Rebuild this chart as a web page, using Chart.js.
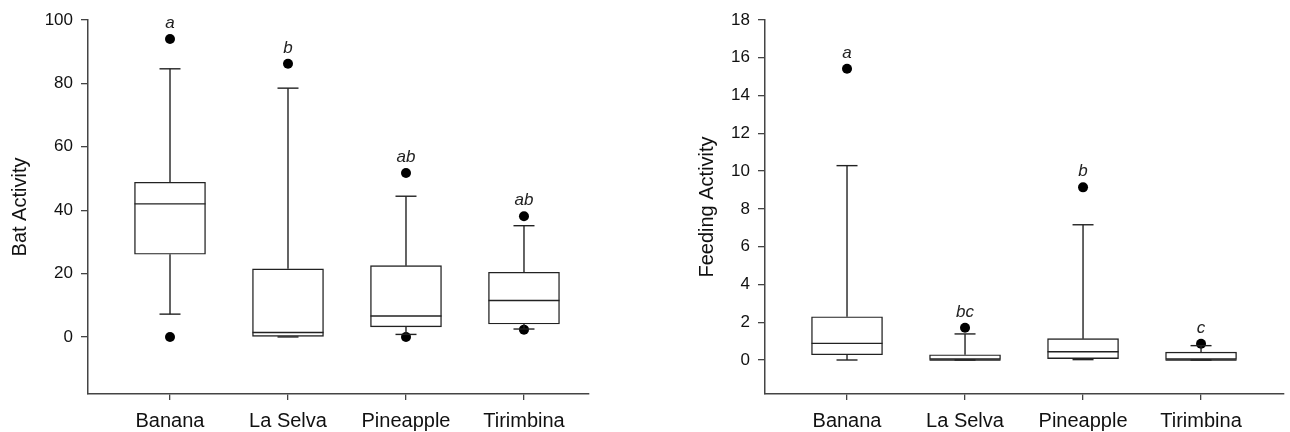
<!DOCTYPE html>
<html>
<head>
<meta charset="utf-8">
<script src="https://cdn.jsdelivr.net/npm/chart.js@4.4.0/dist/chart.umd.min.js"></script>
<style>
  html, body { margin: 0; padding: 0; background: #fff; }
  #wrap { position: relative; width: 1290px; height: 432px; }
  canvas { position: absolute; top: 0; }
  #batChart { left: 0; }
  #feedChart { left: 645px; }
</style>
</head>
<body>
<div id="wrap">
  <canvas id="batChart" width="645" height="432"></canvas>
  <canvas id="feedChart" width="645" height="432"></canvas>
</div>
<script>
// ========================================
// DATA
// ========================================
const categories = ["Banana", "La Selva", "Pineapple", "Tirimbina"];

// Bat activity (left panel)
const batMin = [7.2, 0, 0.8, 2.5];
const batQ1 = [26.1, 0, 3.2, 4.1];
const batMedian = [42.0, 1.4, 6.6, 11.5];
const batQ3 = [48.8, 21.5, 22.5, 20.4];
const batMax = [84.6, 78.5, 44.4, 35.1];
const batOutliers = [[94.0, 0], [86.2], [51.7, 0], [38.1, 2.3]];
const batLetters = ["a", "b", "ab", "ab"];
const batTicks = [0, 20, 40, 60, 80, 100];

// Feeding activity (right panel)
const feedMin = [0, 0, 0.02, 0];
const feedQ1 = [0.28, 0, 0.07, 0];
const feedMedian = [0.88, 0, 0.44, 0];
const feedQ3 = [2.29, 0.28, 1.13, 0.42];
const feedMax = [10.29, 1.38, 7.16, 0.76];
const feedOutliers = [[15.42], [1.71], [9.14], [0.86]];
const feedLetters = ["a", "bc", "b", "c"];
const feedTicks = [0, 2, 4, 6, 8, 10, 12, 14, 16, 18];

const FONT = 'Arial, "Liberation Sans", sans-serif';
const AXIS_COLOR = "#444";
const LINE_COLOR = "#222";

// ======================================================
// Plugin: medians, whiskers, caps and group letters
// ======================================================
const boxLinesPlugin = {
  id: "boxLines",
  afterDatasetDraw(chart, args) {
    if (args.index !== 0) return;
    const s = chart.options.plugins.boxLines;
    const x = chart.scales.x, y = chart.scales.y;
    const ctx = chart.ctx;
    const half = 35.5, cap = 10.5;
    ctx.save();
    ctx.strokeStyle = LINE_COLOR;
    ctx.lineWidth = 1.4;
    categories.forEach((c, i) => {
      const px = x.getPixelForValue(i);
      const seg = (x0, y0, x1, y1) => {
        ctx.beginPath();
        ctx.moveTo(x0, y0);
        ctx.lineTo(x1, y1);
        ctx.stroke();
      };
      // median
      const pm = y.getPixelForValue(s.median[i]);
      seg(px - half, pm, px + half, pm);
      // whiskers
      const pq1 = y.getPixelForValue(s.q1[i]);
      const pq3 = y.getPixelForValue(s.q3[i]);
      const pmin = y.getPixelForValue(s.min[i]);
      const pmax = y.getPixelForValue(s.max[i]);
      seg(px, pq3, px, pmax);
      seg(px - cap, pmax, px + cap, pmax);
      seg(px, pq1, px, pmin);
      seg(px - cap, pmin, px + cap, pmin);
    });
    ctx.restore();

    // letters above highest point
    ctx.save();
    ctx.fillStyle = LINE_COLOR;
    ctx.font = "italic 17px " + FONT;
    ctx.textAlign = "center";
    ctx.textBaseline = "alphabetic";
    categories.forEach((c, i) => {
      const top = Math.max(s.max[i], ...s.outliers[i]);
      const px = x.getPixelForValue(i);
      ctx.fillText(s.letters[i], px, y.getPixelForValue(top) - 11);
    });
    ctx.restore();
  }
};

// ======================================================
// Build one box plot panel
// ======================================================
function makeBoxChart(id, cfg) {
  const boxes = categories.map((c, i) => ({ x: i, y: [cfg.q1[i], cfg.q3[i]] }));
  const points = [];
  cfg.outliers.forEach((arr, i) => arr.forEach(v => points.push({ x: i, y: v })));

  const ctx = document.getElementById(id).getContext("2d");
  return new Chart(ctx, {
    type: "bar",
    data: {
      datasets: [{
        type: "bar",
        data: boxes,
        backgroundColor: "#fff",
        borderColor: LINE_COLOR,
        borderWidth: 1.4,
        borderSkipped: false,
        barThickness: 71
      }, {
        type: "scatter",
        data: points,
        pointRadius: 5,
        pointBackgroundColor: "#000",
        pointBorderColor: "#000",
        pointBorderWidth: 0
      }]
    },
    options: {
      responsive: false,
      animation: false,
      layout: { padding: { top: 20, right: cfg.padRight, bottom: 0, left: 0 } },
      plugins: {
        legend: { display: false },
        tooltip: { enabled: false },
        boxLines: cfg
      },
      scales: {
        x: {
          type: "linear",
          offset: false,
          min: -0.695,
          max: cfg.xMax,
          afterBuildTicks: sc => { sc.ticks = categories.map((c, i) => ({ value: i })); },
          afterFit: sc => { sc.height = 38; },
          grid: { offset: false, drawOnChartArea: false, drawTicks: true, tickLength: 6, color: AXIS_COLOR, lineWidth: 1.3 },
          border: { display: true, color: AXIS_COLOR, width: 1.5 },
          ticks: {
            color: "#111",
            padding: 9,
            font: { family: FONT, size: 20 },
            callback: v => categories[v]
          }
        },
        y: {
          type: "linear",
          min: cfg.yMin,
          max: cfg.yMax,
          afterBuildTicks: sc => { sc.ticks = cfg.ticks.map(v => ({ value: v })); },
          afterFit: sc => { sc.width = cfg.yWidth; },
          grid: { drawOnChartArea: false, drawTicks: true, tickLength: 7, color: AXIS_COLOR, lineWidth: 1.3 },
          border: { display: true, color: AXIS_COLOR, width: 1.5 },
          ticks: {
            color: "#111",
            padding: 8,
            font: { family: FONT, size: 17 }
          },
          title: {
            display: true,
            text: cfg.title,
            color: "#111",
            padding: { top: cfg.titlePad, bottom: 0 },
            font: { family: FONT, size: 20 }
          }
        }
      }
    },
    plugins: [boxLinesPlugin]
  });
}

// ======================================================
// INITIALIZE
// ======================================================
makeBoxChart("batChart", {
  min: batMin, q1: batQ1, median: batMedian, q3: batQ3, max: batMax,
  outliers: batOutliers, letters: batLetters, ticks: batTicks,
  yMin: -18, yMax: 100, xMax: 3.551,
  yWidth: 88, padRight: 56, titlePad: 8, title: "Bat Activity"
});

makeBoxChart("feedChart", {
  min: feedMin, q1: feedQ1, median: feedMedian, q3: feedQ3, max: feedMax,
  outliers: feedOutliers, letters: feedLetters, ticks: feedTicks,
  yMin: -1.8, yMax: 18, xMax: 3.703,
  yWidth: 120, padRight: 6, titlePad: 50, title: "Feeding Activity"
});
</script>
</body>
</html>
